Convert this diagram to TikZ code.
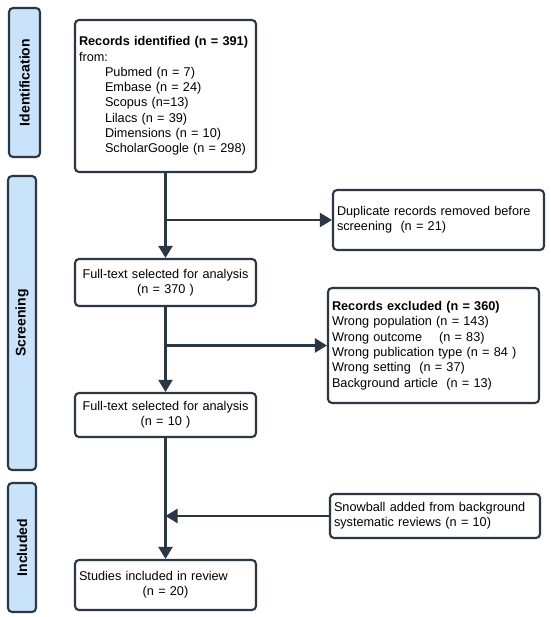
\documentclass[tikz,border=0pt]{standalone}
\usepackage{fontspec}
\setmainfont{Liberation Sans}
\usetikzlibrary{arrows.meta}
\definecolor{ink}{HTML}{2B3743}
\definecolor{barfill}{HTML}{C8E3FA}
\begin{document}
\begin{tikzpicture}[x=1pt,y=-1pt,
  box/.style={draw=ink, line width=2.1pt, rounded corners=4pt, fill=white,
    inner xsep=4pt, inner ysep=0pt, font=\fontsize{12.7}{15.3}\selectfont, text=black},
  bar/.style={draw=ink, line width=2.1pt, rounded corners=4pt, fill=barfill,
    inner sep=0pt, font=\fontsize{14}{16}\selectfont\bfseries, text=black, rotate=90},
  arr/.style={draw=ink, line width=2.1pt, -{Triangle[length=12pt,width=14pt]}}]
\useasboundingbox (0,0) rectangle (550,617);
\fill[white] (0,0) rectangle (550,617);

% phase bars
\node[bar, minimum width=149pt, minimum height=31pt] (ident) at (24.5,82.5) {Identification};
\node[bar, minimum width=294pt, minimum height=28pt] (screen) at (22,323) {Screening};
\node[bar, minimum width=129pt, minimum height=28pt] (incl) at (22,547.5) {Included};

% main boxes
\node[box, minimum width=181pt, minimum height=152pt, text width=173pt, align=left] (b1) at (165.5,96)
 {\textbf{Records identified (n = 391)}\\from:\\
  \hspace*{26pt}Pubmed (n = 7)\\
  \hspace*{26pt}Embase (n = 24)\\
  \hspace*{26pt}Scopus (n=13)\\
  \hspace*{26pt}Lilacs (n = 39)\\
  \hspace*{26pt}Dimensions (n = 10)\\
  \hspace*{26pt}ScholarGoogle (n = 298)};
\node[box, minimum width=181pt, minimum height=47pt, text width=173pt, align=center] (b2) at (165.5,282.5)
 {Full-text selected for analysis\\(n = 370 )};
\node[box, minimum width=181pt, minimum height=44pt, text width=173pt, align=center] (b3) at (165.5,415)
 {Full-text selected for analysis\\(n = 10 )};
\node[box, minimum width=181pt, minimum height=50pt, text width=173pt, align=left] (b4) at (165.5,585)
 {Studies included in review\\\makebox[\linewidth][c]{(n = 20)}};

% side boxes
\node[box, minimum width=211pt, minimum height=60pt, text width=203pt, align=left] (dup) at (438.5,220)
 {Duplicate records removed before\\screening\ \ (n = 21)};
\node[box, minimum width=211pt, minimum height=115pt, text width=203pt, align=left] (excl) at (433.5,345.5)
 {\textbf{Records excluded (n = 360)}\\
  Wrong population (n = 143)\\
  Wrong outcome\ \ \ \ (n = 83)\\
  Wrong publication type (n = 84 )\\
  Wrong setting\ \ (n = 37)\\
  Background article\ \ (n = 13)};
\node[box, minimum width=210pt, minimum height=44pt, text width=202pt, align=left] (snow) at (435,516)
 {Snowball added from background\\systematic reviews (n = 10)};

% connectors
\draw[arr] (b1.south) -- (b2.north);
\draw[arr] (b1.south |- dup.west) -- (dup.west);
\draw[arr] (b2.south) -- (b3.north);
\draw[arr] (b2.south |- excl.west) -- (excl.west);
\draw[arr] (b3.south) -- (b4.north);
\draw[arr] (snow.west) -- (b3.south |- snow.west);
\end{tikzpicture}
\end{document}
